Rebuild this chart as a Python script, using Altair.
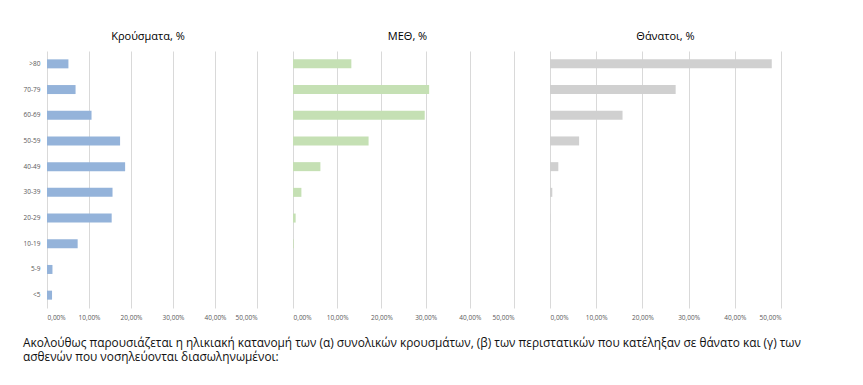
import altair as alt
import pandas as pd

ages = [">80", "70-79", "60-69", "50-59", "40-49", "30-39", "20-29", "10-19", "5-9", "<5"]
cases_pct = [5.1, 6.8, 10.6, 17.4, 18.6, 15.6, 15.4, 7.3, 1.3, 1.2]
icu_pct = [13.2, 30.8, 29.8, 17.1, 6.2, 1.9, 0.6, 0.15, 0.0, 0.0]
deaths_pct = [48.0, 27.2, 15.7, 6.3, 1.8, 0.5, 0.05, 0.0, 0.0, 0.0]
tick_values = [0, 0.1, 0.2, 0.3, 0.4, 0.5]

titles = ["Κρούσματα, %", "ΜΕΘ, %", "Θάνατοι, %"]
colors = ["#94B3DA", "#C5E0B4", "#D0D0D0"]
caption = [
    "Ακολούθως παρουσιάζεται η ηλικιακή κατανομή των (α) συνολικών κρουσμάτων, (β) των περιστατικών που κατέληξαν σε θάνατο και (γ) των",
    "ασθενών που νοσηλεύονται διασωληνωμένοι:",
]

FONT = "Open Sans"


def panel(values, title, color, width, show_y, title_dx):
    df = pd.DataFrame({"age": ages, "pct": [v / 100 for v in values]})
    if show_y:
        y_axis = alt.Axis(
            labelFontSize=6.5,
            labelColor="#595959",
            labelFont=FONT,
            ticks=False,
            domain=False,
            labelPadding=7,
        )
    else:
        y_axis = None
    x_axis = alt.Axis(
        values=tick_values,
        labelExpr="replace(format(datum.value, '.2%'), '.', ',')",
        grid=True,
        gridColor="#D9D9D9",
        domain=False,
        ticks=False,
        labelFontSize=6.5,
        labelColor="#595959",
        labelFont=FONT,
        labelPadding=6,
    )
    return (
        alt.Chart(df)
        .mark_bar(size=9, color=color)
        .encode(
            x=alt.X("pct:Q", scale=alt.Scale(domain=[0, 0.5]), title=None, axis=x_axis),
            y=alt.Y(
                "age:N",
                sort=ages,
                title=None,
                scale=alt.Scale(paddingInner=0, paddingOuter=0),
                axis=y_axis,
            ),
        )
        .properties(
            width=width,
            height=257,
            title=alt.TitleParams(
                title,
                fontSize=11,
                fontWeight="normal",
                font=FONT,
                color="#000000",
                offset=9,
                dx=title_dx,
            ),
        )
    )


p1 = panel(cases_pct, titles[0], colors[0], 210, True, -4)
p2 = panel(icu_pct, titles[1], colors[1], 221, False, 4)
p3 = panel(deaths_pct, titles[2], colors[2], 231, False, 0)

chart = (
    alt.hconcat(p1, p2, p3, spacing=36, bounds="flush")
    .properties(
        padding={"left": 15, "top": 23, "right": 0, "bottom": 0},
        title=alt.TitleParams(
            caption,
            orient="bottom",
            anchor="start",
            fontSize=11.85,
            fontWeight="normal",
            font=FONT,
            color="#111111",
            lineHeight=14.5,
            offset=17,
        ),
    )
    .configure_view(stroke=None)
)

chart.save("out.html", embed_options={"renderer": "svg", "actions": False})
